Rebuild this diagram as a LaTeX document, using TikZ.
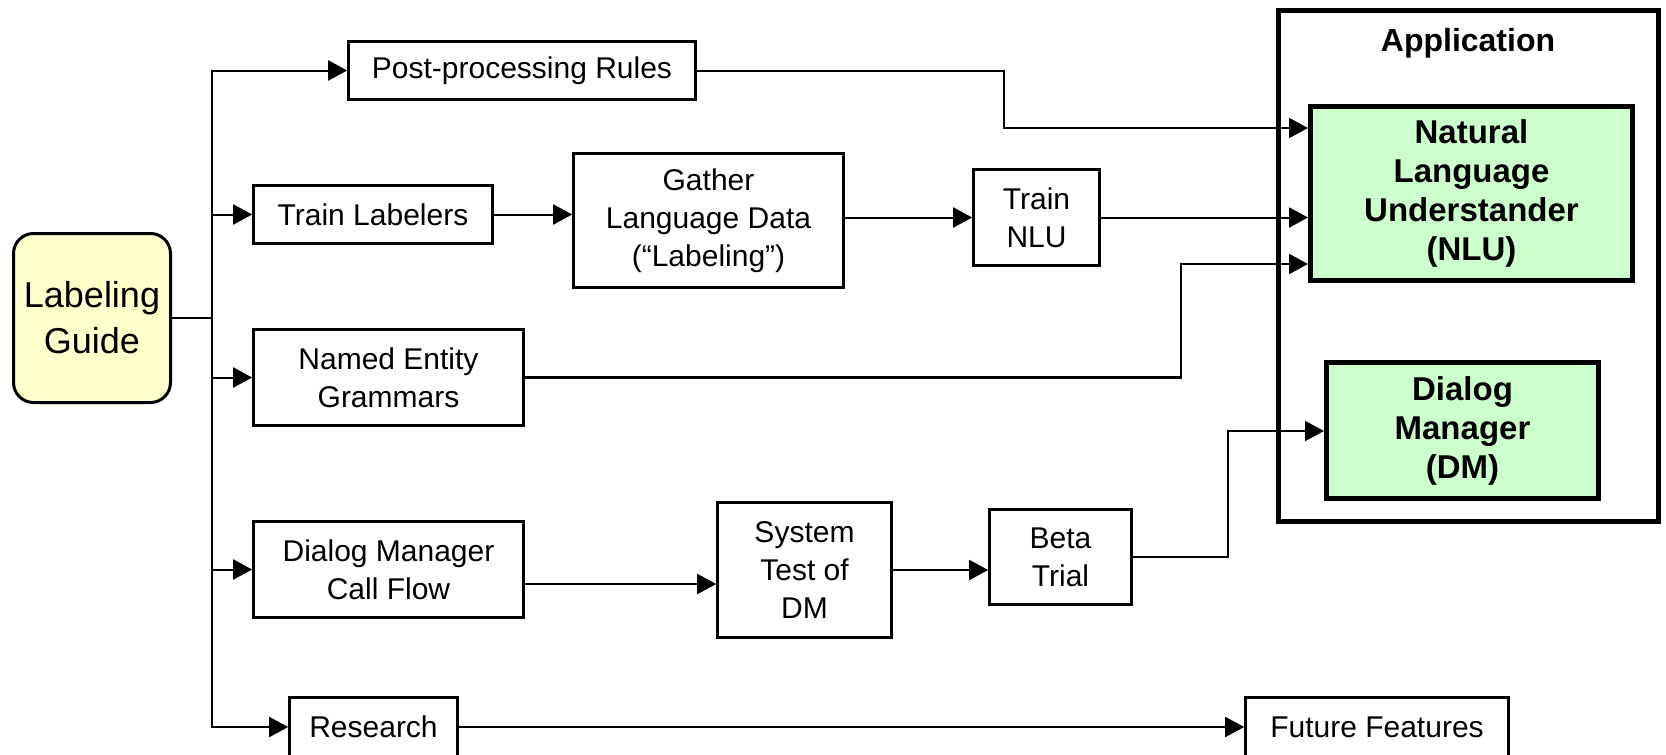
\documentclass[tikz,border=0pt]{standalone}
\usepackage{fontspec}
\setmainfont{Liberation Sans}
\usetikzlibrary{arrows.meta}
\definecolor{guideyellow}{HTML}{FFFFCC}
\definecolor{appgreen}{HTML}{CCFFCC}
\begin{document}
\begin{tikzpicture}[x=1pt,y=-1pt,
  box/.style={draw, line width=2.6pt, fill=white, align=center, inner sep=0pt, font=\fontsize{30}{38}\selectfont},
  appbox/.style={draw, line width=5pt, fill=appgreen, align=center, inner sep=0pt, font=\bfseries\fontsize{33}{39}\selectfont},
  arr/.style={line width=2pt, -{Triangle[length=19pt,width=20pt]}},
  ln/.style={line width=2pt}]
\useasboundingbox (0,0) rectangle (1666,755);
\clip (0,0) rectangle (1666,755);
% application frame
\node[draw, line width=5pt, minimum width=380pt, minimum height=511pt, inner sep=0pt] (app) at (1468.5,266) {};
\node[font=\bfseries\fontsize{32}{38}\selectfont] (applabel) at (1468,43) {Application};
% nodes
\node[box, line width=3pt, fill=guideyellow, rounded corners=20pt, minimum width=157pt, minimum height=169pt, font=\fontsize{36}{46}\selectfont] (guide) at (92,318) {Labeling\\Guide};
\node[box, minimum width=347pt, minimum height=58pt] (post) at (522,70.5) {Post-processing Rules};
\node[box, minimum width=239pt, minimum height=58pt] (trainlab) at (373,214.5) {Train Labelers};
\node[box, minimum width=270pt, minimum height=134pt] (gather) at (708.5,220.5) {Gather\\Language Data\\(``Labeling'')};
\node[box, minimum width=126pt, minimum height=96pt] (trainnlu) at (1036.5,217.5) {Train\\NLU};
\node[box, minimum width=270pt, minimum height=96pt] (named) at (388.5,377.5) {Named Entity\\Grammars};
\node[box, minimum width=270pt, minimum height=96pt] (dmcf) at (388.5,569.5) {Dialog Manager\\Call Flow};
\node[box, minimum width=174pt, minimum height=135pt] (systest) at (804.5,570) {System\\Test of\\DM};
\node[box, minimum width=142pt, minimum height=95pt] (beta) at (1060.5,557) {Beta\\Trial};
\node[box, minimum width=168pt, minimum height=59pt] (research) at (373.5,727) {Research};
\node[box, minimum width=263pt, minimum height=59pt] (future) at (1377,727) {Future Features};
% coordinates
\coordinate (tr) at (212,318);
\coordinate (pbend) at (1004,128);
\coordinate (nbend) at (1181,264);
\coordinate (bbend) at (1228,431);
\coordinate (dmout) at (525,584);
% connectors
\draw[ln] (guide.east) -- (tr);
\draw[arr] (tr) |- (post.west);
\draw[arr] (tr) |- (research.west);
\draw[arr] (tr |- trainlab.west) -- (trainlab.west);
\draw[arr] (tr |- named.west) -- (named.west);
\draw[arr] (tr |- dmcf.west) -- (dmcf.west);
\draw[arr] (trainlab.east) -- (trainlab.east -| gather.west);
\draw[arr] (gather.east |- trainnlu.west) -- (trainnlu.west);
\draw[arr] (dmout) -- (dmout -| systest.west);
\draw[arr] (systest.east) -- (systest.east -| beta.west);
\draw[arr] (research.east) -- (future.west);
% application boxes
\node[appbox, minimum width=322pt, minimum height=174pt] (nlu) at (1471.5,193.5) {Natural\\Language\\Understander\\(NLU)};
\node[appbox, minimum width=272pt, minimum height=136pt] (dm) at (1462.5,430.5) {Dialog\\Manager\\(DM)};
\draw[arr] (post.east) -| (pbend) -- (pbend -| nlu.west);
\draw[arr] (trainnlu.east) -- (trainnlu.east -| nlu.west);
\draw[arr, line width=2.6pt] (named.east) -| (nbend) -- (nbend -| nlu.west);
\draw[arr] (beta.east) -| (bbend) -- (bbend -| dm.west);
\end{tikzpicture}
\end{document}
